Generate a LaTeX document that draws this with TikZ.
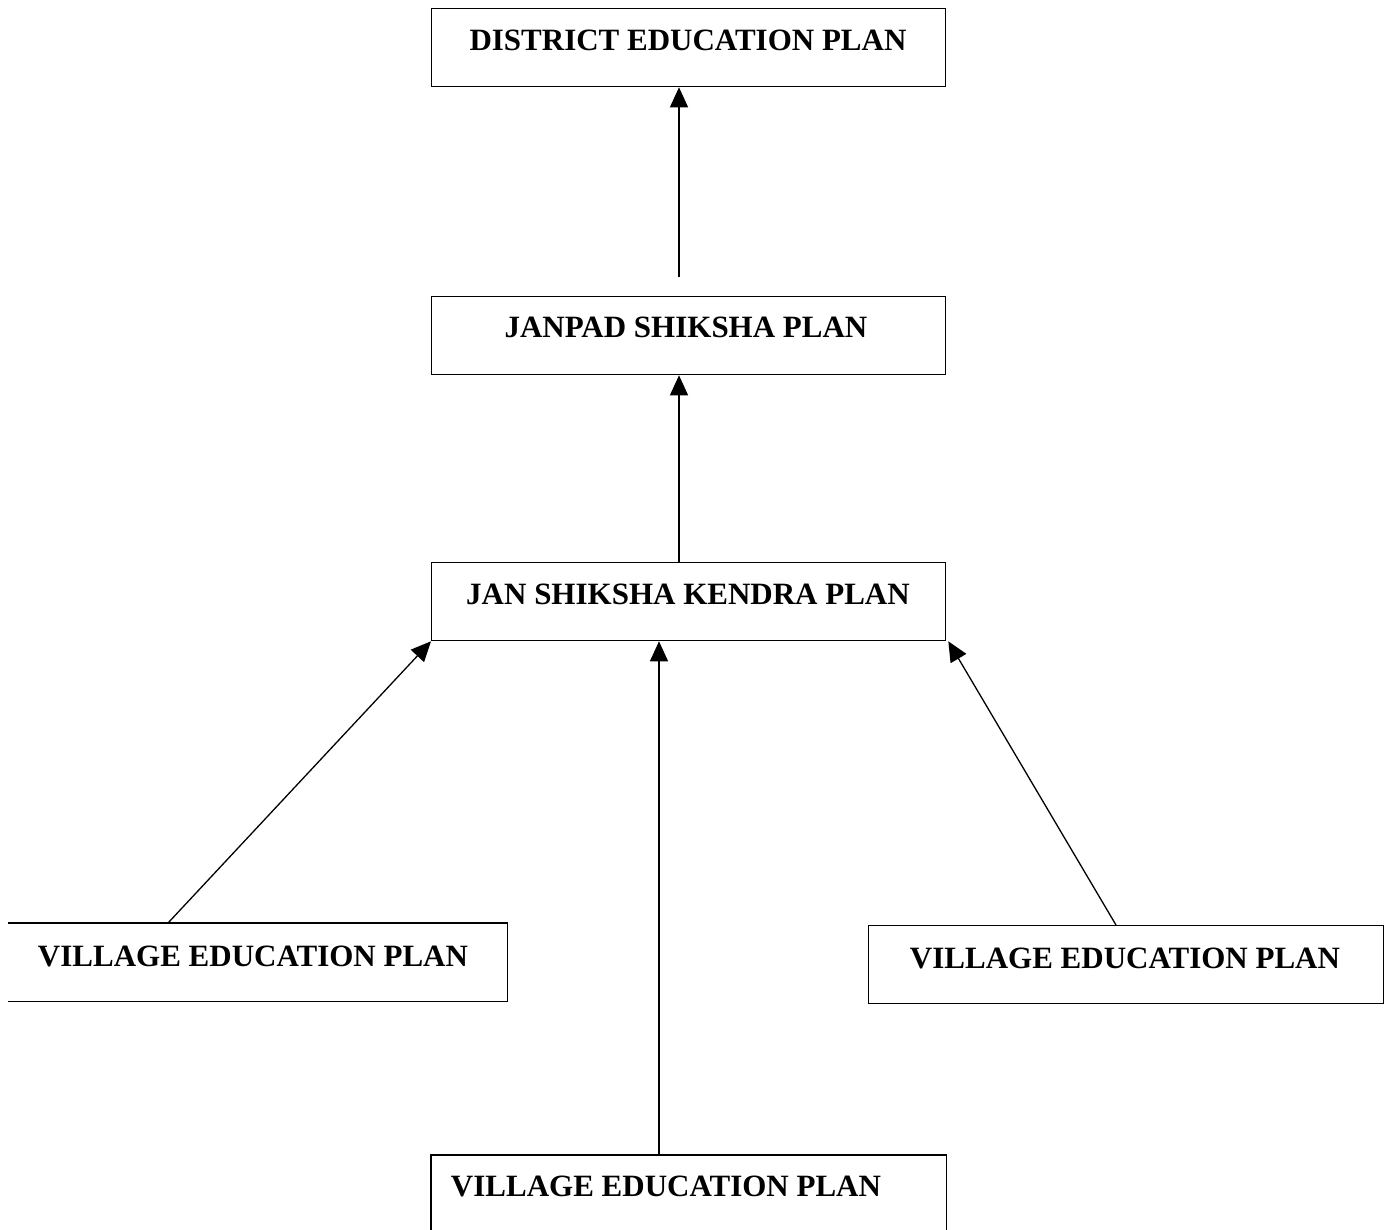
\documentclass[tikz,border=0pt]{standalone}
\usepackage{fontspec}
\setmainfont{Liberation Serif}
\usetikzlibrary{arrows.meta}
\begin{document}
\begin{tikzpicture}[x=1pt,y=-1pt,
  planbox/.style={draw, line width=1.3pt, minimum width=#1, minimum height=78pt, inner sep=0pt, anchor=north west},
  openbox/.style={draw=none, minimum width=#1, minimum height=78pt, inner sep=0pt, anchor=north west},
  plantext/.style={font=\bfseries\fontsize{31}{31}\selectfont, inner sep=0pt, anchor=base},
  arr/.style={line width=1.3pt, -{Triangle[length=20pt,width=18pt]}}]
\useasboundingbox (0,0) rectangle (1388,1229);
% boxes
\node[planbox=514pt] (d) at (431,8) {};
\node[planbox=514pt] (j) at (431,296) {};
\node[planbox=514pt] (k) at (431,562) {};
\node[openbox=499pt] (v1) at (8,923) {};
\node[planbox=515pt] (v2) at (868,925) {};
\node[openbox=515pt] (v3) at (431,1155) {};
\draw[line width=1.3pt] (v1.north west) -- (v1.north east) -- (v1.south east) -- (v1.south west);
\draw[line width=1.3pt] (v3.west |- 0,1235) -- (v3.north west) -- (v3.north east) -- (v3.east |- 0,1235);
% texts
\node[plantext] (dt) at (688,50) {DISTRICT EDUCATION PLAN};
\node[plantext] (jt) at (686,337) {JANPAD SHIKSHA PLAN};
\node[plantext] (kt) at (688,604) {JAN SHIKSHA KENDRA PLAN};
\node[plantext] (v1t) at (253,966) {VILLAGE EDUCATION PLAN};
\node[plantext] (v2t) at (1125,968) {VILLAGE EDUCATION PLAN};
\node[plantext] (v3t) at (666,1196) {VILLAGE EDUCATION PLAN};
% connectors
\coordinate (jtop) at (679,277);
\draw[arr] (jtop) -- (jtop |- d.south);
\draw[arr] (k.north -| jtop) -- (j.south -| jtop);
\coordinate (v1top) at (168,923);
\draw[arr] (v1top) -- (k.south west);
\coordinate (v3top) at (659,1155);
\draw[arr] (v3top) -- (v3top |- k.south);
\coordinate (v2top) at (1116,925);
\draw[arr] (v2top) -- ([xshift=2pt]k.south east);
\end{tikzpicture}
\end{document}
